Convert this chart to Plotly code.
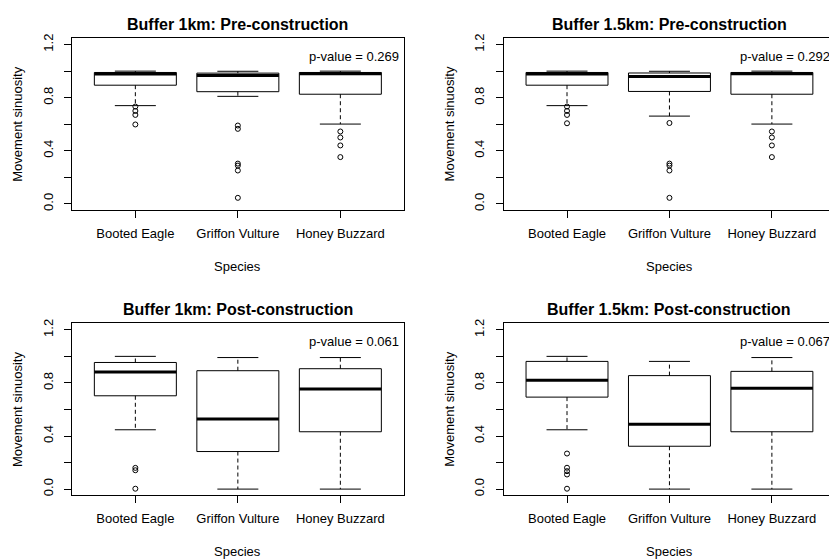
import plotly.graph_objects as go

SPECIES = ["Booted Eagle", "Griffon Vulture", "Honey Buzzard"]
POSITIONS = [1, 2, 3]

# Buffer 1 km, pre-construction
pre1_lower = [0.740, 0.810, 0.601]
pre1_q1 = [0.894, 0.845, 0.826]
pre1_median = [0.979, 0.968, 0.980]
pre1_q3 = [0.990, 0.985, 0.990]
pre1_upper = [1.000, 0.999, 1.000]
pre1_outliers = [[0.733, 0.700, 0.670, 0.598],
                 [0.590, 0.565, 0.303, 0.288, 0.251, 0.045],
                 [0.545, 0.500, 0.440, 0.352]]
pre1_pvalue = "0.269"

# Buffer 1.5 km, pre-construction
pre15_lower = [0.740, 0.661, 0.601]
pre15_q1 = [0.894, 0.847, 0.826]
pre15_median = [0.979, 0.960, 0.980]
pre15_q3 = [0.990, 0.986, 0.990]
pre15_upper = [1.000, 0.999, 1.000]
pre15_outliers = [[0.733, 0.700, 0.670, 0.607],
                  [0.609, 0.303, 0.288, 0.251, 0.045],
                  [0.545, 0.500, 0.440, 0.352]]
pre15_pvalue = "0.292"

# Buffer 1 km, post-construction
post1_lower = [0.447, 0.000, 0.000]
post1_q1 = [0.703, 0.283, 0.432]
post1_median = [0.882, 0.529, 0.755]
post1_q3 = [0.954, 0.892, 0.907]
post1_upper = [1.000, 0.991, 0.991]
post1_outliers = [[0.160, 0.142, 0.003], [], []]
post1_pvalue = "0.061"

# Buffer 1.5 km, post-construction
post15_lower = [0.447, 0.000, 0.000]
post15_q1 = [0.693, 0.323, 0.432]
post15_median = [0.820, 0.489, 0.760]
post15_q3 = [0.962, 0.855, 0.887]
post15_upper = [1.000, 0.962, 0.991]
post15_outliers = [[0.268, 0.161, 0.135, 0.110, 0.003], [], []]
post15_pvalue = "0.067"

Y_TICKS = [0.0, 0.2, 0.4, 0.6, 0.8, 1.0, 1.2]
Y_TICKTEXT = ["0.0", "", "0.4", "", "0.8", "", "1.2"]

FONT = "Liberation Sans, Arial, sans-serif"
W, H = 829, 559

# plot-region geometry (pixels)
LEFT_X = (71.8, 403.9)
RIGHT_X = (503.5, 835.4)
TOP_Y = (33.6, 207.4)
BOT_Y = (321.9, 495.8)
X_RANGE = [0.38, 3.62]
Y_RANGE = [-0.048, 1.248]

panels = [
    dict(title="Buffer 1km: Pre-construction", lower=pre1_lower, q1=pre1_q1,
         median=pre1_median, q3=pre1_q3, upper=pre1_upper,
         outliers=pre1_outliers, pvalue=pre1_pvalue, px=LEFT_X, py=TOP_Y),
    dict(title="Buffer 1.5km: Pre-construction", lower=pre15_lower, q1=pre15_q1,
         median=pre15_median, q3=pre15_q3, upper=pre15_upper,
         outliers=pre15_outliers, pvalue=pre15_pvalue, px=RIGHT_X, py=TOP_Y),
    dict(title="Buffer 1km: Post-construction", lower=post1_lower, q1=post1_q1,
         median=post1_median, q3=post1_q3, upper=post1_upper,
         outliers=post1_outliers, pvalue=post1_pvalue, px=LEFT_X, py=BOT_Y),
    dict(title="Buffer 1.5km: Post-construction", lower=post15_lower, q1=post15_q1,
         median=post15_median, q3=post15_q3, upper=post15_upper,
         outliers=post15_outliers, pvalue=post15_pvalue, px=RIGHT_X, py=BOT_Y),
]

BOX_HALF = 0.4
STAPLE_HALF = 0.2

fig = go.Figure()
annotations = []
layout_axes = {}

for k, p in enumerate(panels, start=1):
    xa = "x" if k == 1 else f"x{k}"
    ya = "y" if k == 1 else f"y{k}"

    box_x, box_y = [], []
    med_x, med_y = [], []
    wh_x, wh_y = [], []
    st_x, st_y = [], []
    out_x, out_y = [], []
    for i, pos in enumerate(POSITIONS):
        lo, a, m, b, hi = p["lower"][i], p["q1"][i], p["median"][i], p["q3"][i], p["upper"][i]
        box_x += [pos - BOX_HALF, pos + BOX_HALF, pos + BOX_HALF, pos - BOX_HALF, pos - BOX_HALF, None]
        box_y += [a, a, b, b, a, None]
        med_x += [pos - BOX_HALF, pos + BOX_HALF, None]
        med_y += [m, m, None]
        wh_x += [pos, pos, None, pos, pos, None]
        wh_y += [a, lo, None, b, hi, None]
        st_x += [pos - STAPLE_HALF, pos + STAPLE_HALF, None, pos - STAPLE_HALF, pos + STAPLE_HALF, None]
        st_y += [lo, lo, None, hi, hi, None]
        for v in p["outliers"][i]:
            out_x.append(pos)
            out_y.append(v)

    common = dict(xaxis=xa, yaxis=ya, showlegend=False, hoverinfo="skip")
    # dashed whiskers, solid staples, box outlines, thick medians, open-circle outliers
    fig.add_trace(go.Scatter(x=wh_x, y=wh_y, mode="lines",
                             line=dict(color="black", width=1, dash="4px,3px"), **common))
    fig.add_trace(go.Scatter(x=st_x, y=st_y, mode="lines",
                             line=dict(color="black", width=1), **common))
    fig.add_trace(go.Scatter(x=box_x, y=box_y, mode="lines",
                             line=dict(color="black", width=1), **common))
    fig.add_trace(go.Scatter(x=med_x, y=med_y, mode="lines",
                             line=dict(color="black", width=3), **common))
    fig.add_trace(go.Scatter(x=out_x, y=out_y, mode="markers",
                             marker=dict(symbol="circle-open", size=5, color="black",
                                         line=dict(width=1, color="black")), **common))

    x0, x1 = p["px"]
    y0, y1 = p["py"]
    dom_x1 = min(x1, W)
    x_scale = (X_RANGE[1] - X_RANGE[0]) / (x1 - x0)
    x_range = [X_RANGE[0], X_RANGE[0] + (dom_x1 - x0) * x_scale]
    full_box = x1 <= W

    layout_axes["xaxis" if k == 1 else f"xaxis{k}"] = dict(
        domain=[x0 / W, dom_x1 / W], range=x_range, anchor=ya,
        tickmode="array", tickvals=POSITIONS, ticktext=SPECIES,
        ticks="outside", ticklen=7, tickwidth=1, tickcolor="black",
        showline=True, linecolor="black", linewidth=1, mirror=True,
        showgrid=False, zeroline=False, ticklabelstandoff=4,
        tickfont=dict(family=FONT, size=13, color="black"),
    )
    layout_axes["yaxis" if k == 1 else f"yaxis{k}"] = dict(
        domain=[1 - y1 / H, 1 - y0 / H], range=Y_RANGE, anchor=xa,
        tickmode="array", tickvals=Y_TICKS, ticktext=Y_TICKTEXT,
        ticks="outside", ticklen=7, tickwidth=1, tickcolor="black",
        showline=True, linecolor="black", linewidth=1, mirror=full_box,
        showgrid=False, zeroline=False, tickangle=-90, ticklabelstandoff=6,
        tickfont=dict(family=FONT, size=13, color="black"),
    )

    cx = (x0 + x1) / 2
    cy = (y0 + y1) / 2
    annotations.append(dict(text=f"<b>{p['title']}</b>", xref="paper", yref="paper",
                            x=cx / W, y=1 - (y0 - 14) / H, xanchor="center", yanchor="middle",
                            showarrow=False, font=dict(family=FONT, size=16, color="black")))
    annotations.append(dict(text="Species", xref="paper", yref="paper",
                            x=cx / W, y=1 - (y1 + 57) / H, xanchor="center", yanchor="middle",
                            showarrow=False, font=dict(family=FONT, size=13, color="black")))
    annotations.append(dict(text="Movement sinuosity", xref="paper", yref="paper",
                            x=(x0 - 54.3) / W, y=1 - cy / H, xanchor="center", yanchor="middle",
                            textangle=-90, showarrow=False,
                            font=dict(family=FONT, size=13, color="black")))
    annotations.append(dict(text=f"p-value = {p['pvalue']}", xref=xa, yref=ya,
                            x=3.13, y=1.11, xanchor="center", yanchor="middle",
                            showarrow=False, font=dict(family=FONT, size=13, color="black")))

fig.update_layout(
    width=W, height=H, autosize=False,
    margin=dict(l=0, r=0, t=0, b=0),
    paper_bgcolor="white", plot_bgcolor="white",
    annotations=annotations,
    **layout_axes,
)

fig.write_html("out.html")
